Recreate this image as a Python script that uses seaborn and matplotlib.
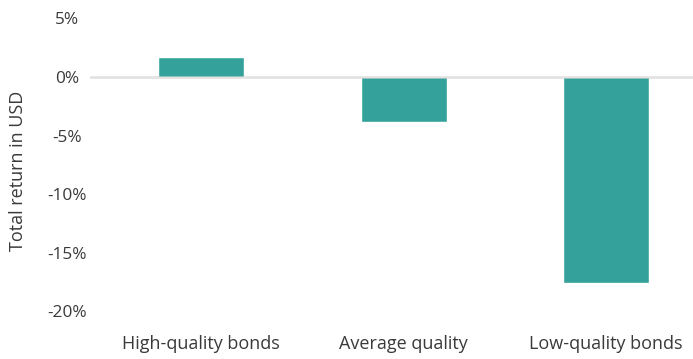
import matplotlib
matplotlib.use("Agg")
import matplotlib.pyplot as plt
import matplotlib.transforms as mtransforms
import seaborn as sns
import pandas as pd

categories = ["High-quality bonds", "Average quality", "Low-quality bonds"]
returns = [1.7, -3.8, -17.6]
y_ticks = [5, 0, -5, -10, -15, -20]
y_tick_labels = ["5%", "0%", "-5%", "-10%", "-15%", "-20%"]

df = pd.DataFrame({"category": categories, "ret": returns})

sns.set_theme(style="white")
plt.rcParams["font.family"] = ["Open Sans", "DejaVu Sans"]

text_color = "#3a3a3a"
fs = 13.0

fig = plt.figure(figsize=(6.93, 3.59), dpi=100)
ax = fig.add_axes([90 / 693, 0.0674, 1 - 90 / 693, 0.9139])

sns.barplot(data=df, x="category", y="ret", color="#34A29A", saturation=1,
            width=0.425, ax=ax, zorder=2)

ax.axhline(0, color=(0.8, 0.8, 0.8), alpha=0.55, lw=2, zorder=3)

ax.set_xlim(-0.55, 2.43)
ax.set_ylim(-22, 6)
ax.set_yticks(y_ticks)
ax.set_yticklabels(y_tick_labels)
shift = mtransforms.ScaledTranslation(0, -3 / 100, fig.dpi_scale_trans)
for lbl in ax.get_yticklabels():
    lbl.set_horizontalalignment("center")
    lbl.set_transform(lbl.get_transform() + shift)
ax.tick_params(axis="y", length=0, pad=16.6, labelsize=fs - 0.6, labelcolor=text_color)
ax.tick_params(axis="x", length=0, pad=0.5, labelsize=fs, labelcolor=text_color)

ax.set_xlabel("")
ax.set_ylabel("Total return in USD", fontsize=fs, color=text_color, labelpad=0)
ax.yaxis.set_label_coords(-0.104, 0.5)

for s in ax.spines.values():
    s.set_visible(False)

fig.savefig("out.png", dpi=100)
